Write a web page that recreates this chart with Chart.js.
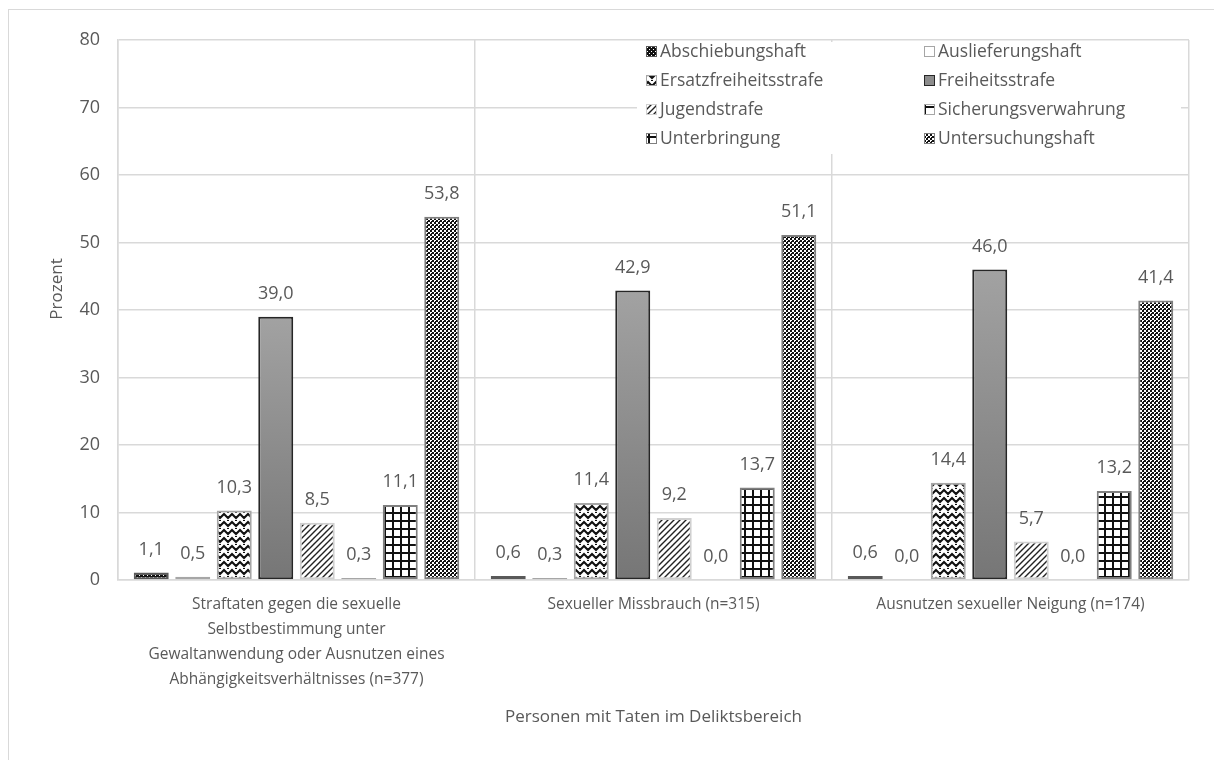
<!DOCTYPE html>
<html lang="de">
<head>
<meta charset="utf-8">
<title>Haftarten nach Deliktsbereich</title>
<script src="https://cdn.jsdelivr.net/npm/chart.js@4.4.0/dist/chart.umd.min.js"></script>
<style>
  html, body { margin: 0; padding: 0; background: #fff; }
  #wrap { position: relative; width: 1214px; height: 760px; overflow: hidden; }
  #rahmen { position: absolute; left: 8px; top: 9px; width: 1230px; height: 780px; border: 1px solid #d9d9d9; }
  #grafik { position: absolute; left: 0; top: 0; }
</style>
</head>
<body>
<div id="wrap">
  <div id="rahmen"></div>
  <canvas id="grafik" width="1214" height="760"></canvas>
</div>
<script>
// Kategorien (Deliktsbereiche) und Haftarten
const kategorien = [
  ['Straftaten gegen die sexuelle', 'Selbstbestimmung unter', 'Gewaltanwendung oder Ausnutzen eines', 'Abhängigkeitsverhältnisses (n=377)'],
  'Sexueller Missbrauch (n=315)',
  'Ausnutzen sexueller Neigung (n=174)'
];
const haftarten = [
  'Abschiebungshaft', 'Auslieferungshaft', 'Ersatzfreiheitsstrafe', 'Freiheitsstrafe',
  'Jugendstrafe', 'Sicherungsverwahrung', 'Unterbringung', 'Untersuchungshaft'
];

// Anteile in Prozent je Deliktsbereich
const abschiebungshaft     = [1.1, 0.6, 0.6];
const auslieferungshaft    = [0.5, 0.3, 0.0];
const ersatzfreiheitsstrafe = [10.3, 11.4, 14.4];
const freiheitsstrafe      = [39.0, 42.9, 46.0];
const jugendstrafe         = [8.5, 9.2, 5.7];
const sicherungsverwahrung = [0.3, 0.0, 0.0];
const unterbringung        = [11.1, 13.7, 13.2];
const untersuchungshaft    = [53.8, 51.1, 41.4];

const werte = [
  abschiebungshaft, auslieferungshaft, ersatzfreiheitsstrafe, freiheitsstrafe,
  jugendstrafe, sicherungsverwahrung, unterbringung, untersuchungshaft
];

// y-Achse
const yMin = 0;
const yMax = 80;
const ySchritt = 10;
const yTitel = 'Prozent';
const xTitel = 'Personen mit Taten im Deliktsbereich';

const schrift = 'Open Sans';
const textFarbe = '#595959';
const gitterFarbe = '#d9d9d9';

const canvas = document.getElementById('grafik');
const ctx = canvas.getContext('2d');

// Schraffuren als kleine Kacheln
function muster(groesse, zeichnen) {
  const c = document.createElement('canvas');
  c.width = c.height = groesse;
  const g = c.getContext('2d');
  g.fillStyle = '#fff';
  g.fillRect(0, 0, groesse, groesse);
  zeichnen(g, groesse);
  return ctx.createPattern(c, 'repeat');
}

function pixelMuster(groesse, schwarz) {
  return muster(groesse, (g, n) => {
    g.fillStyle = '#111';
    for (let x = 0; x < n; x++) {
      for (let y = 0; y < n; y++) {
        if (schwarz(x, y)) g.fillRect(x, y, 1, 1);
      }
    }
  });
}

const musterAbschiebung = pixelMuster(4, (x, y) => !((x === 1 && y === 1) || (x === 3 && y === 3)));
const musterErsatz = muster(8, (g) => {
  g.strokeStyle = '#111';
  g.lineWidth = 2;
  g.beginPath();
  for (const dy of [-8, 0, 8]) {
    g.moveTo(-4, dy + 6); g.lineTo(0, dy + 2); g.lineTo(4, dy + 6); g.lineTo(8, dy + 2); g.lineTo(12, dy + 6);
  }
  g.stroke();
  g.fillStyle = '#111';
  g.fillRect(3, 0, 2, 1);
});
const musterJugend = muster(6, (g) => {
  g.strokeStyle = '#222';
  g.lineWidth = 1.4;
  g.beginPath();
  g.moveTo(0, 6); g.lineTo(6, 0);
  g.moveTo(-1, 1); g.lineTo(1, -1);
  g.moveTo(5, 7); g.lineTo(7, 5);
  g.stroke();
});
const musterSicherung = muster(12, (g, n) => {
  g.fillStyle = '#111';
  g.fillRect(0, 0, 2, n);
  g.fillRect(0, n - 2, n, 2);
});
const musterUnterbringung = muster(8, (g, n) => {
  g.fillStyle = '#111';
  g.fillRect(0, 0, 2, n);
  g.fillRect(0, 0, n, 2);
});
// Schachbrett mit 2-px-Feldern, in den schwarzen Feldern ein heller Punkt
const musterUntersuchung = pixelMuster(4, (x, y) => ((x >> 1) + (y >> 1)) % 2 === 0 || (x === 3 && y === 1));

// Verlauf für Freiheitsstrafe
function verlauf(context) {
  const chart = context.chart;
  if (!chart.chartArea || context.raw === undefined) return '#8c8c8c';
  const y = chart.scales.y;
  const g = chart.ctx.createLinearGradient(0, y.getPixelForValue(context.raw), 0, y.getPixelForValue(0));
  g.addColorStop(0, '#a2a2a2');
  g.addColorStop(1, '#767676');
  return g;
}

const fuellungen = [
  musterAbschiebung, '#ffffff', musterErsatz, verlauf,
  musterJugend, musterSicherung, musterUnterbringung, musterUntersuchung
];
const legendenFuellung = [
  musterAbschiebung, '#ffffff', musterErsatz, '#8c8c8c',
  musterJugend, musterSicherung, musterUnterbringung, musterUntersuchung
];
const rahmenFarben = ['#595959', '#a6a6a6', '#a6a6a6', '#262626', '#d0d0d0', '#a6a6a6', '#7f7f7f', '#7f7f7f'];

const datensaetze = haftarten.map((name, i) => ({
  label: name,
  data: werte[i],
  backgroundColor: fuellungen[i],
  borderColor: rahmenFarben[i],
  borderWidth: 2,
  borderSkipped: false,
  categoryPercentage: 0.93,
  barPercentage: 0.843
}));

// Wertebeschriftung über den Säulen
const wertBeschriftung = {
  id: 'wertBeschriftung',
  afterDatasetsDraw(chart) {
    const c = chart.ctx;
    c.save();
    c.font = `18px "${schrift}"`;
    c.fillStyle = textFarbe;
    c.textAlign = 'center';
    c.textBaseline = 'middle';
    chart.data.datasets.forEach((ds, i) => {
      chart.getDatasetMeta(i).data.forEach((balken, j) => {
        c.fillText(ds.data[j].toFixed(1).replace('.', ','), balken.x, balken.y - 23);
      });
    });
    c.restore();
  }
};

// Titel der y-Achse, etwas oberhalb der Mitte
const yAchsenTitel = {
  id: 'yAchsenTitel',
  afterDraw(chart) {
    const c = chart.ctx;
    const area = chart.chartArea;
    c.save();
    c.translate(57, (area.top + area.bottom) / 2 - 21);
    c.rotate(-Math.PI / 2);
    c.font = `17px "${schrift}"`;
    c.fillStyle = textFarbe;
    c.textAlign = 'center';
    c.textBaseline = 'middle';
    c.fillText(yTitel, 0, 0);
    c.restore();
  }
};

// Legende zweispaltig im Diagrammbereich
const legende = {
  id: 'legende',
  afterDatasetsDraw(chart) {
    const c = chart.ctx;
    const box = { x: 637, y: 42, w: 544, h: 112 };
    c.save();
    c.fillStyle = '#fff';
    c.fillRect(box.x, box.y, box.w, box.h);
    c.font = `17.5px "${schrift}"`;
    c.textBaseline = 'middle';
    c.textAlign = 'left';
    const spalten = [646, 924];
    chart.data.datasets.forEach((ds, i) => {
      const sx = spalten[i % 2];
      const sy = 51 + Math.floor(i / 2) * 29;
      c.fillStyle = legendenFuellung[i];
      c.fillRect(sx, sy - 5, 11, 11);
      c.strokeStyle = rahmenFarben[i];
      c.lineWidth = 1;
      c.strokeRect(sx + 0.5, sy - 4.5, 10, 10);
      c.fillStyle = textFarbe;
      c.fillText(ds.label, sx + 14, sy + 1);
    });
    c.restore();
  }
};

new Chart(canvas, {
  type: 'bar',
  data: { labels: kategorien, datasets: datensaetze },
  plugins: [legende, wertBeschriftung, yAchsenTitel],
  options: {
    responsive: false,
    animation: false,
    layout: { padding: { left: 0, top: 40, right: 25, bottom: 0 } },
    plugins: {
      legend: { display: false },
      tooltip: { enabled: false }
    },
    scales: {
      x: {
        grid: { color: gitterFarbe, lineWidth: 1.5, drawTicks: false, offset: true },
        border: { color: gitterFarbe, width: 1.5 },
        ticks: {
          color: textFarbe,
          font: { family: schrift, size: 15.5, lineHeight: 1.613 },
          padding: 12,
          maxRotation: 0,
          autoSkip: false
        },
        title: {
          display: true,
          text: xTitel,
          color: textFarbe,
          font: { family: schrift, size: 17 },
          padding: { top: 0, bottom: 33 }
        },
        afterFit(achse) { achse.height = 180; }
      },
      y: {
        min: yMin,
        max: yMax,
        grid: { color: gitterFarbe, lineWidth: 1.5, drawTicks: false },
        border: { color: gitterFarbe, width: 1.5 },
        ticks: {
          stepSize: ySchritt,
          color: textFarbe,
          font: { family: schrift, size: 18 },
          padding: 18
        },
        afterFit(achse) { achse.width = 118; }
      }
    }
  }
});
</script>
</body>
</html>
